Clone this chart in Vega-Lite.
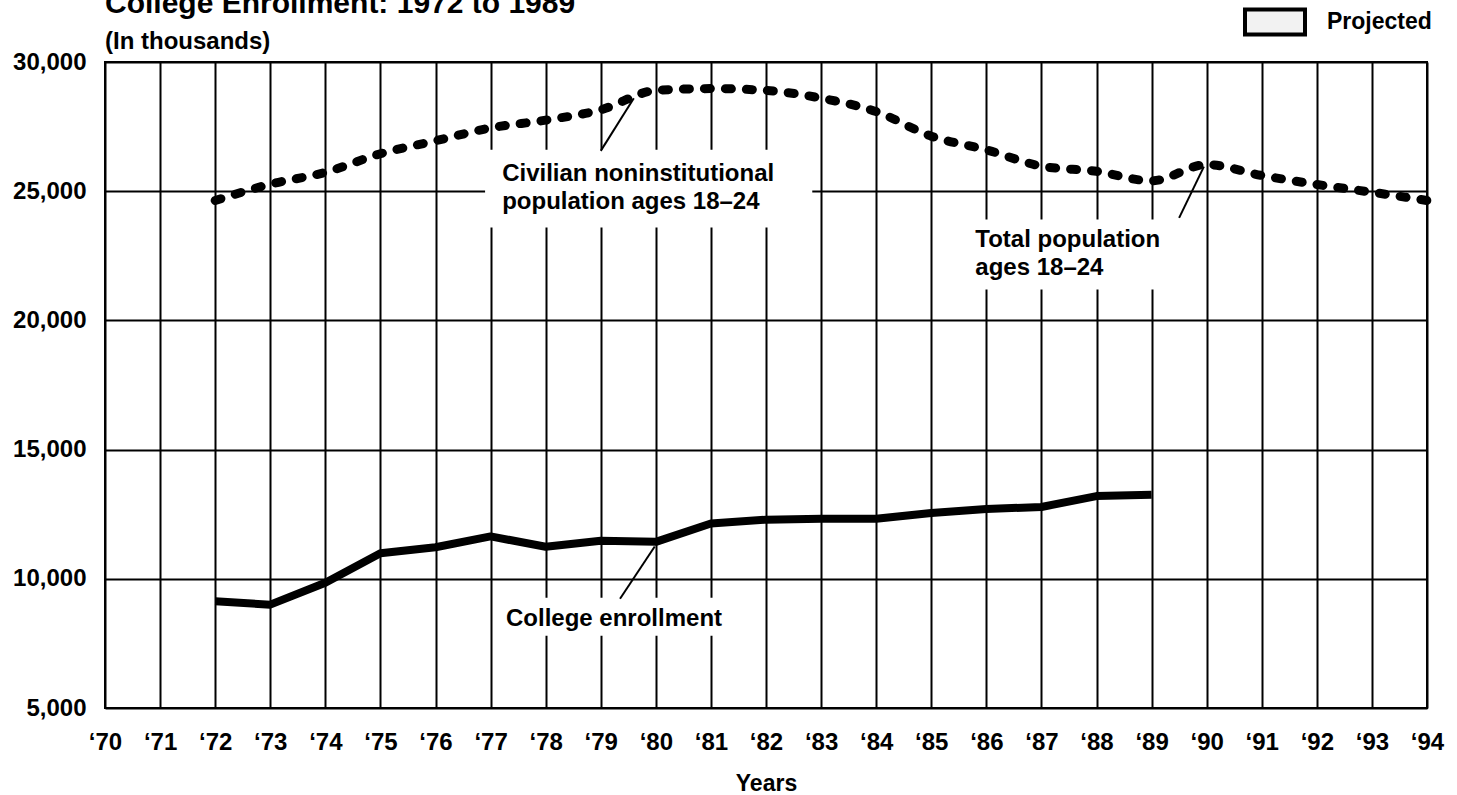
{
  "$schema": "https://vega.github.io/schema/vega-lite/v6.json",
  "width": 1322,
  "height": 646,
  "autosize": {"type": "none"},
  "padding": {"left": 105, "top": 62, "right": 30, "bottom": 87},
  "background": "white",
  "title": {
    "text": "College Enrollment:  1972 to 1989",
    "subtitle": "(In thousands)",
    "anchor": "start",
    "frame": "group",
    "font": "Liberation Sans",
    "fontSize": 30,
    "fontWeight": "bold",
    "color": "black",
    "subtitleFont": "Liberation Sans",
    "subtitleFontSize": 24,
    "subtitleFontWeight": "bold",
    "subtitleColor": "black",
    "subtitlePadding": 11,
    "offset": 9,
    "dy": 73
  },
  "config": {
    "view": {"stroke": "black", "strokeWidth": 2},
    "axis": {
      "labelFont": "Liberation Sans",
      "labelFontWeight": "bold",
      "labelFontSize": 24,
      "labelColor": "black",
      "grid": true,
      "gridColor": "black",
      "gridWidth": 2,
      "gridOpacity": 1,
      "domain": false,
      "ticks": false,
      "titleFont": "Liberation Sans",
      "titleFontWeight": "bold",
      "titleFontSize": 23,
      "titleColor": "black"
    }
  },
  "datasets": {
    "series": [
      {"series": "Population ages 18–24", "year": 1972, "value": 24640},
      {"series": "Population ages 18–24", "year": 1973, "value": 25270},
      {"series": "Population ages 18–24", "year": 1974, "value": 25730},
      {"series": "Population ages 18–24", "year": 1975, "value": 26450},
      {"series": "Population ages 18–24", "year": 1976, "value": 26950},
      {"series": "Population ages 18–24", "year": 1977, "value": 27450},
      {"series": "Population ages 18–24", "year": 1978, "value": 27750},
      {"series": "Population ages 18–24", "year": 1979, "value": 28150},
      {"series": "Population ages 18–24", "year": 1980, "value": 28900},
      {"series": "Population ages 18–24", "year": 1981, "value": 28970},
      {"series": "Population ages 18–24", "year": 1982, "value": 28900},
      {"series": "Population ages 18–24", "year": 1983, "value": 28600},
      {"series": "Population ages 18–24", "year": 1984, "value": 28080},
      {"series": "Population ages 18–24", "year": 1985, "value": 27130},
      {"series": "Population ages 18–24", "year": 1986, "value": 26600},
      {"series": "Population ages 18–24", "year": 1987, "value": 25970},
      {"series": "Population ages 18–24", "year": 1988, "value": 25770},
      {"series": "Population ages 18–24", "year": 1989, "value": 25400},
      {"series": "Population ages 18–24", "year": 1990, "value": 26030},
      {"series": "Population ages 18–24", "year": 1991, "value": 25610},
      {"series": "Population ages 18–24", "year": 1992, "value": 25260},
      {"series": "Population ages 18–24", "year": 1993, "value": 24960},
      {"series": "Population ages 18–24", "year": 1994, "value": 24640},
      {"series": "College enrollment", "year": 1972, "value": 9130},
      {"series": "College enrollment", "year": 1973, "value": 9000},
      {"series": "College enrollment", "year": 1974, "value": 9850},
      {"series": "College enrollment", "year": 1975, "value": 10990},
      {"series": "College enrollment", "year": 1976, "value": 11220},
      {"series": "College enrollment", "year": 1977, "value": 11640},
      {"series": "College enrollment", "year": 1978, "value": 11240},
      {"series": "College enrollment", "year": 1979, "value": 11470},
      {"series": "College enrollment", "year": 1980, "value": 11430},
      {"series": "College enrollment", "year": 1981, "value": 12140},
      {"series": "College enrollment", "year": 1982, "value": 12290},
      {"series": "College enrollment", "year": 1983, "value": 12320},
      {"series": "College enrollment", "year": 1984, "value": 12320},
      {"series": "College enrollment", "year": 1985, "value": 12550},
      {"series": "College enrollment", "year": 1986, "value": 12700},
      {"series": "College enrollment", "year": 1987, "value": 12780},
      {"series": "College enrollment", "year": 1988, "value": 13200},
      {"series": "College enrollment", "year": 1989, "value": 13250}
    ],
    "projected": [
      {"period": "Projected", "year": 1989, "year2": 1994}
    ],
    "labelBoxes": [
      {"year": 1976.9, "year2": 1982.84, "value": 26600, "value2": 23600},
      {"year": 1985.6, "year2": 1989.4, "value": 23900, "value2": 21200},
      {"year": 1977.12, "year2": 1981.53, "value": 9270, "value2": 7800}
    ],
    "leaders": [
      {"year": 1979.0, "value": 26560, "year2": 1979.6, "value2": 28600},
      {"year": 1989.5, "value": 23970, "year2": 1989.95, "value2": 25950},
      {"year": 1979.35, "value": 9230, "year2": 1979.98, "value2": 11250}
    ],
    "labels": [
      {"label": "Civilian noninstitutional\npopulation ages 18–24", "year": 1977.21, "value": 25400},
      {"label": "Total population\nages 18–24", "year": 1985.8, "value": 22850},
      {"label": "College enrollment", "year": 1977.28, "value": 8180}
    ]
  },
  "layer": [
    {
      "data": {"name": "projected"},
      "mark": {"type": "rect", "opacity": 0},
      "encoding": {
        "x": {
          "field": "year",
          "type": "quantitative",
          "scale": {"domain": [1970, 1994], "nice": false, "zero": false},
          "axis": {
            "values": [1970, 1971, 1972, 1973, 1974, 1975, 1976, 1977, 1978, 1979, 1980, 1981, 1982, 1983, 1984, 1985, 1986, 1987, 1988, 1989, 1990, 1991, 1992, 1993, 1994],
            "labelExpr": "'‘' + slice(toString(datum.value), 2)",
            "title": "Years",
            "labelPadding": 22,
            "titlePadding": 18,
            "labelFlush": false,
            "labelOverlap": false
          }
        },
        "x2": {"field": "year2"},
        "y": {
          "field": "yTop",
          "type": "quantitative",
          "scale": {"domain": [5000, 30000], "nice": false, "zero": false},
          "axis": {
            "values": [5000, 10000, 15000, 20000, 25000, 30000],
            "labelExpr": "format(datum.value, ',')",
            "title": null,
            "labelPadding": 19,
            "labelFlush": false
          }
        },
        "fill": {
          "field": "period",
          "type": "nominal",
          "scale": {"domain": ["Projected"], "range": ["#f2f2f2"]},
          "legend": {
            "title": null,
            "orient": "none",
            "legendX": 1138,
            "legendY": -72,
            "padding": 0,
            "symbolType": "M-1,-0.42H1V0.42H-1Z",
            "symbolSize": 3600,
            "labelFont": "Liberation Sans",
            "labelFontSize": 23,
            "labelFontWeight": "bold",
            "labelColor": "black",
            "labelOffset": 20,
            "encode": {
              "symbols": {
                "update": {
                  "opacity": {"value": 1},
                  "fill": {"value": "#f2f2f2"},
                  "stroke": {"value": "black"},
                  "strokeWidth": {"value": 4}
                }
              }
            }
          }
        }
      }
    },
    {
      "data": {"name": "labelBoxes"},
      "mark": {"type": "rect", "fill": "white"},
      "encoding": {
        "x": {"field": "year", "type": "quantitative"},
        "x2": {"field": "year2"},
        "y": {"field": "value", "type": "quantitative"},
        "y2": {"field": "value2"}
      }
    },
    {
      "data": {"name": "leaders"},
      "mark": {"type": "rule", "color": "black", "strokeWidth": 2},
      "encoding": {
        "x": {"field": "year", "type": "quantitative"},
        "x2": {"field": "year2"},
        "y": {"field": "value", "type": "quantitative"},
        "y2": {"field": "value2"}
      }
    },
    {
      "data": {"name": "series"},
      "transform": [{"filter": "datum.series === 'Population ages 18–24'"}],
      "mark": {"type": "line", "color": "black", "strokeWidth": 9, "strokeDash": [6, 15], "strokeCap": "round", "interpolate": "monotone"},
      "encoding": {
        "x": {"field": "year", "type": "quantitative"},
        "y": {"field": "value", "type": "quantitative"}
      }
    },
    {
      "data": {"name": "series"},
      "transform": [{"filter": "datum.series === 'College enrollment'"}],
      "mark": {"type": "line", "color": "black", "strokeWidth": 8, "strokeJoin": "round"},
      "encoding": {
        "x": {"field": "year", "type": "quantitative"},
        "y": {"field": "value", "type": "quantitative"}
      }
    },
    {
      "data": {"name": "labels"},
      "mark": {"type": "text", "align": "left", "baseline": "alphabetic", "font": "Liberation Sans", "fontSize": 24, "fontWeight": "bold", "color": "black", "lineBreak": "\n", "lineHeight": 28},
      "encoding": {
        "x": {"field": "year", "type": "quantitative"},
        "y": {"field": "value", "type": "quantitative"},
        "text": {"field": "label"}
      }
    }
  ]
}
